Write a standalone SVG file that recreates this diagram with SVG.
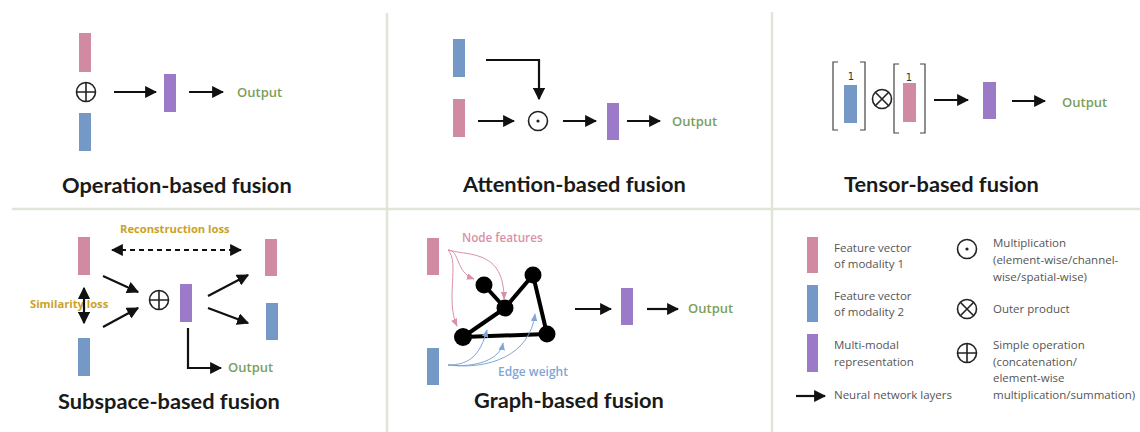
<svg xmlns="http://www.w3.org/2000/svg" width="1140" height="432" viewBox="0 0 1140 432">
<style>
.pink{fill:#d08aa2}
.blue{fill:#7499c6}
.purple{fill:#9b7ac8}
.ar{stroke:#111;stroke-width:2.2;fill:none;marker-end:url(#ah)}
.op{fill:none;stroke:#222;stroke-width:1.6}
.title{font-family:Lato,"Open Sans",sans-serif;font-weight:700;font-size:21.8px;fill:#1a1a1a}
.out{font-family:"Open Sans",sans-serif;font-weight:600;font-size:13px;fill:#7aa05a}
.gold{font-family:"Open Sans",sans-serif;font-weight:700;font-size:11.2px;fill:#c9a227}
.leg{font-family:"Open Sans",sans-serif;font-size:11.5px;fill:#555}
.div{stroke:#dfe6d8;stroke-width:2.5}
.node{fill:#000}
.edge{stroke:#000;stroke-width:4}
.pc{stroke:#d990a8;stroke-width:1;fill:none;marker-end:url(#ahp)}
.bc{stroke:#7fa6d6;stroke-width:1;fill:none;marker-end:url(#ahb)}
</style>
<defs>
<marker id="ah" viewBox="0 0 10 10" refX="9" refY="5" markerWidth="5.5" markerHeight="5.5" orient="auto-start-reverse"><path d="M0,0 L10,5 L0,10 z" fill="#111"/></marker>
<marker id="ahp" viewBox="0 0 10 10" refX="9" refY="5" markerWidth="8" markerHeight="8" orient="auto"><path d="M0,1 L10,5 L0,9 z" fill="#d990a8"/></marker>
<marker id="ahb" viewBox="0 0 10 10" refX="9" refY="5" markerWidth="8" markerHeight="8" orient="auto"><path d="M0,1 L10,5 L0,9 z" fill="#7fa6d6"/></marker>
<g id="oplus"><circle cx="0" cy="0" r="9.5" class="op"/><path d="M-9.5,0H9.5M0,-9.5V9.5" class="op"/></g>
<g id="odot"><circle cx="0" cy="0" r="9.5" class="op"/><circle cx="0" cy="0" r="1.6" fill="#222"/></g>
<g id="otimes"><circle cx="0" cy="0" r="9.5" class="op"/><path d="M-6.7,-6.7L6.7,6.7M6.7,-6.7L-6.7,6.7" class="op"/></g>
</defs>
<rect width="1140" height="432" fill="#fff"/>

<g id="dividers">
<line x1="12" y1="209" x2="1140" y2="209" class="div"/>
<line x1="387" y1="13" x2="387" y2="432" class="div"/>
<line x1="772" y1="12" x2="772" y2="432" class="div"/>
</g>

<!-- Operation-based fusion -->
<g id="op-fusion">
<rect x="79" y="33" width="12" height="39" class="pink"/>
<rect x="79" y="113" width="12" height="38" class="blue"/>
<use href="#oplus" x="86" y="92"/>
<rect x="164" y="74" width="12" height="38" class="purple"/>
<text x="237" y="97" class="out">Output</text>
<text x="62" y="193" class="title">Operation-based fusion</text>
</g>

<!-- Attention-based fusion -->
<g id="att-fusion">
<rect x="453" y="39" width="12" height="38" class="blue"/>
<rect x="453" y="99" width="12" height="38" class="pink"/>
<use href="#odot" x="538" y="121"/>
<rect x="607" y="103" width="12" height="37" class="purple"/>
<text x="672" y="126" class="out">Output</text>
<text x="463" y="192" class="title">Attention-based fusion</text>
</g>

<!-- Tensor-based fusion -->
<g id="tensor-fusion">
<path d="M838,62H833V130H838M860,62H865V130H860" fill="none" stroke="#444" stroke-width="1.2"/>
<path d="M899,64H894V133H899M920,64H925V133H920" fill="none" stroke="#444" stroke-width="1.2"/>
<text x="851" y="80" text-anchor="middle" font-family="'DejaVu Sans',sans-serif" font-size="10" fill="#333">1</text>
<text x="909" y="81" text-anchor="middle" font-family="'DejaVu Sans',sans-serif" font-size="10" fill="#333">1</text>
<rect x="844" y="85" width="13" height="38" class="blue"/>
<rect x="903" y="83" width="13" height="39" class="pink"/>
<use href="#otimes" x="882" y="99"/>
<rect x="983" y="82" width="13" height="37" class="purple"/>
<text x="1062" y="107" class="out">Output</text>
<text x="844" y="192" class="title">Tensor-based fusion</text>
</g>

<!-- Subspace-based fusion -->
<g id="subspace-fusion">
<rect x="78" y="237" width="12" height="38" class="pink"/>
<rect x="78" y="338" width="12" height="38" class="blue"/>
<text x="120" y="233" class="gold">Reconstruction loss</text>
<text x="30" y="308" class="gold">Similarity loss</text>
<use href="#oplus" x="159" y="300"/>
<rect x="180" y="284" width="12" height="38" class="purple"/>
<rect x="265" y="239" width="12" height="37" class="pink"/>
<rect x="266" y="303" width="12" height="37" class="blue"/>
<text x="228" y="372" class="out">Output</text>
<text x="58" y="409" class="title">Subspace-based fusion</text>
</g>

<!-- Graph-based fusion -->
<g id="graph-fusion">
<rect x="427" y="238" width="12" height="37" class="pink"/>
<rect x="427" y="348" width="12" height="37" class="blue"/>
<text x="462" y="242" font-family="'Open Sans',sans-serif" font-weight="600" font-size="11.7" fill="#d990a8">Node features</text>
<text x="498" y="376" font-family="'Open Sans',sans-serif" font-weight="600" font-size="12" fill="#7fa6d6">Edge weight</text>
<g id="graph-edges">
<line x1="484" y1="285" x2="505" y2="308" class="edge"/>
<line x1="505" y1="308" x2="533" y2="275" class="edge"/>
<line x1="533" y1="275" x2="547" y2="334" class="edge"/>
<line x1="547" y1="334" x2="463" y2="337" class="edge"/>
<line x1="463" y1="337" x2="505" y2="308" class="edge"/>
</g>
<circle cx="484" cy="285" r="8.5" class="node"/>
<circle cx="505" cy="308" r="8.5" class="node"/>
<circle cx="533" cy="275" r="8.5" class="node"/>
<circle cx="463" cy="337" r="9" class="node"/>
<circle cx="547" cy="334" r="8.5" class="node"/>
<rect x="621" y="288" width="12" height="37" class="purple"/>
<text x="688" y="313" class="out">Output</text>
<text x="474" y="408" class="title">Graph-based fusion</text>
</g>

<!-- Legend -->
<g id="legend">
<rect x="807" y="237" width="11" height="36" class="pink"/>
<text x="834" y="252" class="leg">Feature vector</text>
<text x="834" y="268" class="leg">of modality 1</text>
<rect x="807" y="285" width="11" height="37" class="blue"/>
<text x="834" y="300" class="leg">Feature vector</text>
<text x="834" y="316" class="leg">of modality 2</text>
<rect x="807" y="334" width="11" height="38" class="purple"/>
<text x="834" y="349" class="leg">Multi-modal</text>
<text x="834" y="366" class="leg">representation</text>
<text x="834" y="399" class="leg">Neural network layers</text>
<use href="#odot" x="967" y="249"/>
<text x="993" y="247" class="leg">Multiplication</text>
<text x="993" y="264" class="leg">(element-wise/channel-</text>
<text x="993" y="281" class="leg">wise/spatial-wise)</text>
<use href="#otimes" x="967" y="309"/>
<text x="993" y="313" class="leg">Outer product</text>
<use href="#oplus" x="967" y="353"/>
<text x="993" y="349" class="leg">Simple operation</text>
<text x="993" y="366" class="leg">(concatenation/</text>
<text x="993" y="382" class="leg">element-wise</text>
<text x="993" y="399" class="leg">multiplication/summation)</text>
</g>

<g id="connectors">
<line x1="114" y1="92" x2="156" y2="92" class="ar"/>
<line x1="189" y1="92" x2="223" y2="92" class="ar"/>
<path d="M486,60H539V99" class="ar"/>
<line x1="478" y1="121" x2="514" y2="121" class="ar"/>
<line x1="563" y1="121" x2="596" y2="121" class="ar"/>
<line x1="627" y1="121" x2="660" y2="121" class="ar"/>
<line x1="934" y1="100" x2="968" y2="100" class="ar"/>
<line x1="1012" y1="101" x2="1045" y2="101" class="ar"/>
<line x1="112" y1="250" x2="241" y2="250" class="ar" stroke-dasharray="5,4" marker-start="url(#ah)"/>
<line x1="84" y1="288" x2="84" y2="323" class="ar" marker-start="url(#ah)"/>
<line x1="103" y1="276" x2="138" y2="292" class="ar"/>
<line x1="103" y1="327" x2="138" y2="308" class="ar"/>
<line x1="208" y1="296" x2="248" y2="275" class="ar"/>
<line x1="208" y1="308" x2="248" y2="323" class="ar"/>
<path d="M188,328V368H221" class="ar"/>
<path d="M448,250C460,250 455,272 474,279" class="pc"/>
<path d="M448,250C470,256 504,250 504,299" class="pc"/>
<path d="M448,250C460,262 445,300 457,326" class="pc"/>
<path d="M448,365C470,365 480,355 487,330" class="bc"/>
<path d="M448,365C475,368 500,360 503,343" class="bc"/>
<path d="M448,365C490,370 530,355 535,314" class="bc"/>
<line x1="575" y1="309" x2="611" y2="309" class="ar"/>
<line x1="647" y1="309" x2="678" y2="309" class="ar"/>
<line x1="796" y1="396" x2="825" y2="396" class="ar"/>
</g>
</svg>
